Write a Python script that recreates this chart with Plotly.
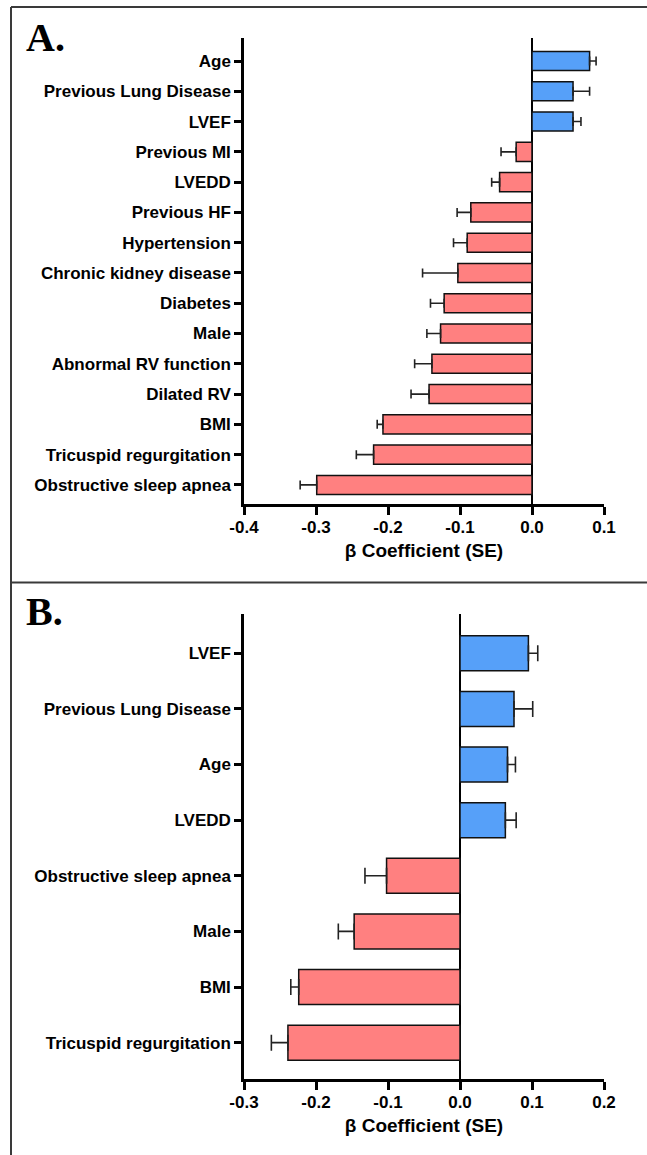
import plotly.graph_objects as go

W, H = 647, 1155

# Panel A data
cats_a = ["Age", "Previous Lung Disease", "LVEF", "Previous MI", "LVEDD", "Previous HF",
          "Hypertension", "Chronic kidney disease", "Diabetes", "Male",
          "Abnormal RV function", "Dilated RV", "BMI", "Tricuspid regurgitation",
          "Obstructive sleep apnea"]
beta_a = [0.080, 0.057, 0.057, -0.022, -0.045, -0.085, -0.090, -0.103, -0.122, -0.127,
          -0.139, -0.143, -0.207, -0.220, -0.299]
se_a = [0.009, 0.023, 0.011, 0.021, 0.011, 0.019, 0.019, 0.049, 0.019, 0.019,
        0.024, 0.025, 0.008, 0.024, 0.023]
ticks_a = [-0.4, -0.3, -0.2, -0.1, 0.0, 0.1]

# Panel B data
cats_b = ["LVEF", "Previous Lung Disease", "Age", "LVEDD", "Obstructive sleep apnea",
          "Male", "BMI", "Tricuspid regurgitation"]
beta_b = [0.095, 0.075, 0.066, 0.063, -0.102, -0.147, -0.224, -0.239]
se_b = [0.013, 0.026, 0.011, 0.015, 0.030, 0.022, 0.011, 0.023]
ticks_b = [-0.3, -0.2, -0.1, 0.0, 0.1, 0.2]

BLUE = "#56A0F9"
RED = "#FF8080"
SANS = "Arial, Liberation Sans, sans-serif"
SERIF = "Times New Roman, Liberation Serif, serif"


def px_x(p):
    return p / W


def px_y(p):
    return 1 - p / H


def bar_trace(cats, beta, se, xa, ya, cap):
    colors = [BLUE if v > 0 else RED for v in beta]
    plus = [s if v > 0 else 0 for v, s in zip(beta, se)]
    minus = [s if v < 0 else 0 for v, s in zip(beta, se)]
    return go.Bar(
        x=beta, y=cats, orientation="h", xaxis=xa, yaxis=ya,
        marker=dict(color=colors, line=dict(color="#111111", width=1.5)),
        width=0.63,
        error_x=dict(type="data", symmetric=False, array=plus, arrayminus=minus,
                     color="#222222", thickness=1.6, width=cap),
        showlegend=False, hoverinfo="x+y",
    )


fig = go.Figure()
fig.add_trace(bar_trace(cats_a, beta_a, se_a, "x", "y", 4.5))
fig.add_trace(bar_trace(cats_b, beta_b, se_b, "x2", "y2", 8))

xdom = [px_x(244), px_x(604)]
title_font = dict(family=SANS, size=19, color="black", weight="bold")
common_x = dict(
    showline=True, linecolor="black", linewidth=2.5, ticks="outside", ticklen=8,
    tickwidth=2.5, tickcolor="black", showgrid=False, zeroline=True,
    zerolinecolor="black", zerolinewidth=2.2, automargin=False,
    tickfont=dict(family=SANS, size=17, color="black", weight="bold"),
    ticklabelstandoff=-2, mirror=False,
)
common_y = dict(
    showline=True, linecolor="black", linewidth=2.5, ticks="outside", ticklen=7,
    tickwidth=2.5, tickcolor="black", showgrid=False, zeroline=False,
    type="category", automargin=False,
    tickfont=dict(family=SANS, size=17, color="black", weight="bold"),
    ticklabelstandoff=0,
)

fig.update_layout(
    width=W, height=H, margin=dict(l=0, r=0, t=0, b=0, autoexpand=False),
    paper_bgcolor="white", plot_bgcolor="white",
    xaxis=dict(domain=xdom, anchor="y", range=[-0.4, 0.1], tickvals=ticks_a,
               ticktext=[f"{v:.1f}" for v in ticks_a],
               title=dict(text="β Coefficient (SE)", standoff=8, font=title_font),
               **common_x),
    yaxis=dict(domain=[px_y(504), px_y(38)], anchor="x", categoryorder="array",
               categoryarray=cats_a, range=[14.63, -0.76], **common_y),
    xaxis2=dict(domain=xdom, anchor="y2", range=[-0.3, 0.2], tickvals=ticks_b,
                ticktext=[f"{v:.1f}" for v in ticks_b],
                title=dict(text="β Coefficient (SE)", standoff=8, font=title_font),
                **common_x),
    yaxis2=dict(domain=[px_y(1079), px_y(614)], anchor="x2", categoryorder="array",
                categoryarray=cats_b, range=[7.653, -0.706], **common_y),
)

# frame lines
frame = dict(color="#3a3a3a", width=2)
fig.add_shape(type="line", xref="paper", yref="paper", x0=px_x(11), x1=1.0,
              y0=px_y(7), y1=px_y(7), line=frame)
fig.add_shape(type="line", xref="paper", yref="paper", x0=px_x(11), x1=px_x(11),
              y0=px_y(7), y1=0, line=frame)
fig.add_shape(type="line", xref="paper", yref="paper", x0=px_x(11), x1=1.0,
              y0=px_y(582.5), y1=px_y(582.5), line=frame)

# panel letters
for letter, ycen in [("A.", 37), ("B.", 611)]:
    fig.add_annotation(text=letter, xref="paper", yref="paper", x=px_x(24), y=px_y(ycen),
                       xanchor="left", yanchor="middle", showarrow=False,
                       font=dict(family=SERIF, size=40, color="black", weight="bold"))

fig.write_html("out.html")
